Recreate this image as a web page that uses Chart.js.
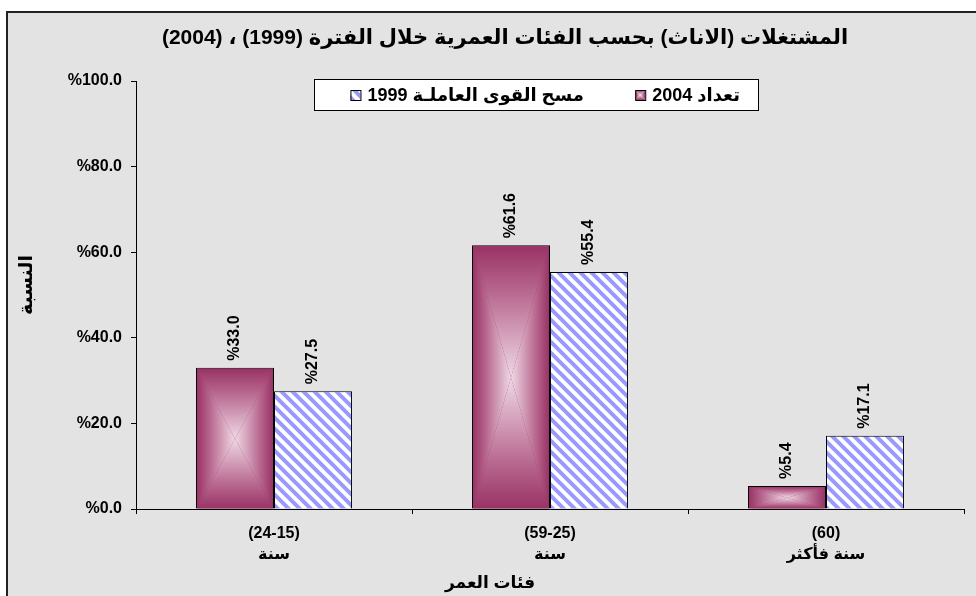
<!DOCTYPE html>
<html lang="ar">
<head>
  <meta charset="UTF-8">
  <title>المشتغلات (الاناث) بحسب الفئات العمرية</title>
  <style>
    body { margin: 0; padding: 0; background: #fff; }
    #box { width: 976px; height: 596px; }
  </style>
  <script src="https://cdn.jsdelivr.net/npm/chart.js"></script>
</head>
<body>
  <div id="box"><canvas id="chart" width="976" height="596"></canvas></div>
  <script>
    // data
    const ageGroups = [['(24-15)', 'سنة'], ['(59-25)', 'سنة'], ['(60)', 'سنة فأكثر']];
    const census2004 = [33.0, 61.6, 5.4];
    const survey1999 = [27.5, 55.4, 17.1];
    const seriesNames = ['تعداد 2004', 'مسح القوى العاملـة 1999'];
    const yTicks = [0, 20, 40, 60, 80, 100];

    const chartTitle = 'المشتغلات (الاناث) بحسب الفئات العمرية خلال الفترة (1999) ، (2004)';
    const xTitle = 'فئات العمر';
    const yTitle = 'النسبة';

    const FONT = 'Arial, "Liberation Sans", "DejaVu Sans", sans-serif';
    const DARK = '#993366';
    const LIGHT = '#efd8e5';

    // white with blue diagonal stripes
    function makeHatch() {
      const n = 11;
      const c = document.createElement('canvas');
      c.width = n; c.height = n;
      const g = c.getContext('2d');
      g.fillStyle = '#fff';
      g.fillRect(0, 0, n, n);
      g.strokeStyle = '#9999ff';
      g.lineWidth = 4;
      g.beginPath();
      g.moveTo(-n, -n); g.lineTo(2 * n, 2 * n);
      g.moveTo(-n, 0); g.lineTo(n, 2 * n);
      g.moveTo(0, -n); g.lineTo(2 * n, n);
      g.stroke();
      return document.getElementById('chart').getContext('2d').createPattern(c, 'repeat');
    }
    const hatch = makeHatch();

    // rectangle gradient: dark at the edges, light in the middle
    function boxShade(ctx, x0, y0, x1, y1) {
      const cx = (x0 + x1) / 2, cy = (y0 + y1) / 2;
      const parts = [
        [[x0, y0], [x1, y0], [0, y0, 0, cy]],
        [[x0, y1], [x1, y1], [0, y1, 0, cy]],
        [[x0, y0], [x0, y1], [x0, 0, cx, 0]],
        [[x1, y0], [x1, y1], [x1, 0, cx, 0]]
      ];
      parts.forEach(p => {
        const gr = ctx.createLinearGradient(p[2][0], p[2][1], p[2][2], p[2][3]);
        gr.addColorStop(0, DARK);
        gr.addColorStop(0.35, '#b8688f');
        gr.addColorStop(1, LIGHT);
        ctx.fillStyle = gr;
        ctx.beginPath();
        ctx.moveTo(p[0][0], p[0][1]);
        ctx.lineTo(p[1][0], p[1][1]);
        ctx.lineTo(cx, cy);
        ctx.closePath();
        ctx.fill();
      });
    }

    const decor = {
      id: 'decor',
      beforeDraw(chart) {
        const ctx = chart.ctx;
        ctx.save();
        ctx.fillStyle = '#fff';
        ctx.fillRect(0, 0, chart.width, chart.height);
        ctx.fillStyle = '#e3e3e3';
        ctx.fillRect(7, 12, chart.width, chart.height);
        ctx.strokeStyle = '#222';
        ctx.lineWidth = 2;
        ctx.beginPath();
        ctx.moveTo(7, chart.height); ctx.lineTo(7, 12); ctx.lineTo(chart.width, 12);
        ctx.stroke();
        ctx.restore();
      },
      afterDatasetsDraw(chart) {
        const ctx = chart.ctx;
        ctx.save();
        // shading of the 2004 bars
        chart.getDatasetMeta(0).data.forEach(bar => {
          const p = bar.getProps(['x', 'y', 'base', 'width'], true);
          boxShade(ctx, p.x - p.width / 2 + 1, p.y + 1, p.x + p.width / 2 - 1, p.base);
        });
        // value labels, rotated
        ctx.fillStyle = '#000';
        ctx.font = 'bold 16px ' + FONT;
        ctx.textAlign = 'left';
        ctx.textBaseline = 'middle';
        chart.data.datasets.forEach((ds, i) => {
          chart.getDatasetMeta(i).data.forEach((bar, j) => {
            const p = bar.getProps(['x', 'y'], true);
            ctx.save();
            ctx.translate(p.x, p.y - 7);
            ctx.rotate(-Math.PI / 2);
            ctx.fillText('%' + ds.data[j].toFixed(1), 0, 0);
            ctx.restore();
          });
        });
        ctx.restore();
      },
      afterDraw(chart) {
        const ctx = chart.ctx;
        ctx.save();
        ctx.fillStyle = '#000';
        ctx.direction = 'rtl';
        ctx.textBaseline = 'middle';
        ctx.textAlign = 'center';
        // title
        ctx.font = 'bold 21px ' + FONT;
        ctx.fillText(chartTitle, 505, 38);
        // axis titles
        ctx.font = 'bold 17px ' + FONT;
        ctx.fillText(xTitle, 490, 583);
        ctx.font = 'bold 19px ' + FONT;
        ctx.save();
        ctx.translate(27, 285);
        ctx.rotate(-Math.PI / 2);
        ctx.fillText(yTitle, 0, 0);
        ctx.restore();

        // legend box
        ctx.fillStyle = '#fff';
        ctx.fillRect(314, 79, 444, 31);
        ctx.strokeStyle = '#000';
        ctx.lineWidth = 1;
        ctx.strokeRect(314.5, 79.5, 444, 31);
        ctx.font = 'bold 18px ' + FONT;
        ctx.textAlign = 'right';
        const rights = [740, 584];
        seriesNames.forEach((name, i) => {
          const w = ctx.measureText(name).width;
          ctx.fillStyle = '#000';
          ctx.fillText(name, rights[i], 96);
          const sx = rights[i] - w - 17;
          if (i === 0) boxShade(ctx, sx, 90, sx + 10, 100);
          else { ctx.fillStyle = hatch; ctx.fillRect(sx, 90, 10, 10); }
          ctx.strokeRect(sx + 0.5, 90.5, 10, 10);
        });
        ctx.restore();
      }
    };

    new Chart(document.getElementById('chart'), {
      type: 'bar',
      data: {
        labels: ageGroups,
        datasets: [
          { label: seriesNames[0], data: census2004, backgroundColor: DARK, borderColor: '#000', borderWidth: 1 },
          { label: seriesNames[1], data: survey1999, backgroundColor: hatch, borderColor: '#000', borderWidth: 1 }
        ]
      },
      options: {
        responsive: false,
        animation: false,
        devicePixelRatio: 1,
        categoryPercentage: 0.565,
        barPercentage: 1,
        layout: { padding: { top: 81, left: 0, right: 12, bottom: 0 } },
        plugins: { legend: { display: false }, title: { display: false }, tooltip: { enabled: false } },
        scales: {
          x: {
            grid: { offset: true, drawOnChartArea: false, color: '#000', tickLength: 5 },
            border: { color: '#000', width: 1 },
            ticks: { color: '#000', font: { family: FONT, size: 16, weight: 'bold', lineHeight: 1.3 }, padding: 9, maxRotation: 0, autoSkip: false },
            afterFit(scale) { scale.height = 87; }
          },
          y: {
            min: 0, max: 100,
            afterBuildTicks(scale) { scale.ticks = yTicks.map(v => ({ value: v })); },
            grid: { drawOnChartArea: false, color: '#000', tickLength: 5 },
            border: { color: '#000', width: 1 },
            ticks: { color: '#000', font: { family: FONT, size: 16, weight: 'bold' }, padding: 9,
                     callback: v => '%' + v.toFixed(1) },
            afterFit(scale) { scale.width = 136; }
          }
        }
      },
      plugins: [decor]
    });
  </script>
</body>
</html>
